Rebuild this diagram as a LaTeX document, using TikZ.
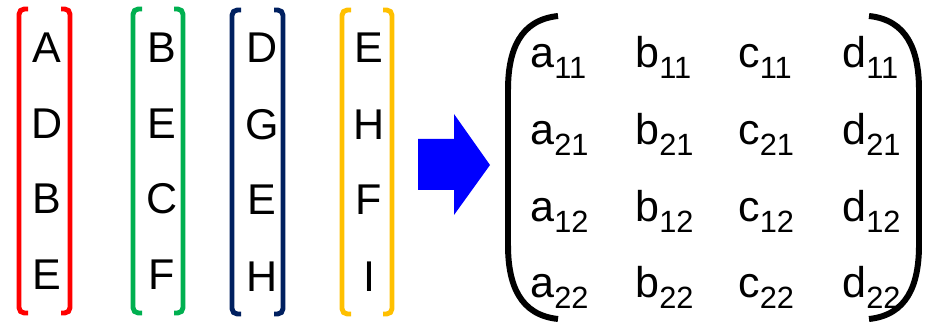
\documentclass[tikz,border=0pt]{standalone}
\usepackage{fontspec}
\setmainfont{Liberation Sans}
\usepackage{xcolor}
\usepackage{tikz}
\usetikzlibrary{positioning, calc}
\definecolor{colred}{RGB}{255, 0, 0}
\definecolor{colgreen}{RGB}{0, 176, 80}
\definecolor{colnavy}{RGB}{0, 32, 96}
\definecolor{colgold}{RGB}{255, 192, 0}
\definecolor{arrowblue}{RGB}{0, 0, 255}
\newcommand{\idx}[1]{\raisebox{-5.7pt}{\fontsize{17.5}{20}\selectfont #1}}

\begin{document}
\begin{tikzpicture}[x=0.02cm, y=-0.02cm,
    letter/.style={font=\fontsize{24.5}{29}\selectfont, inner sep=0pt, anchor=base},
    entry/.style={font=\fontsize{24.5}{29}\selectfont, inner sep=0pt, anchor=base west},
    bracket/.style={line width=2.8pt, rounded corners=3pt},
    paren/.style={line width=3.4pt}]
    \useasboundingbox (0,0) rectangle (926,323);

    % Columns
    \foreach \t/\y [count=\i] in {A/63,D/139,B/214,E/290}
        \node[letter] (red\i) at (47,\y) {\t};
    \foreach \t/\y [count=\i] in {B/63,E/139,C/214,F/290}
        \node[letter] (green\i) at (162,\y) {\t};
    \foreach \t/\y [count=\i] in {D/63,G/140,E/215,H/292}
        \node[letter] (navy\i) at (262,\y) {\t};
    \foreach \t/\y [count=\i] in {E/63,H/140,F/215,I/292}
        \node[letter] (gold\i) at (369,\y) {\t};

    % Brackets
    \draw[bracket, colred] (28,9) -- (19,9) -- (19,313) -- (28,313);
    \draw[bracket, colred] (61,9) -- (70,9) -- (70,313) -- (61,313);
    \draw[bracket, colgreen] (142,9) -- (133,9) -- (133,313) -- (142,313);
    \draw[bracket, colgreen] (174,9) -- (183,9) -- (183,313) -- (174,313);
    \draw[bracket, colnavy] (241,10) -- (232,10) -- (232,314) -- (241,314);
    \draw[bracket, colnavy] (274,10) -- (283,10) -- (283,314) -- (274,314);
    \draw[bracket, colgold] (351,10) -- (342,10) -- (342,314) -- (351,314);
    \draw[bracket, colgold] (383,10) -- (392,10) -- (392,314) -- (383,314);

    % Arrow
    \fill[arrowblue] (418,139) -- (454,139) -- (454,114) -- (490,165)
        -- (454,215) -- (454,190) -- (418,190) -- cycle;

    % Matrix
    \foreach \c/\x in {a/530,b/635,c/738,d/842}
        \foreach \r/\y in {11/68,21/145,12/222,22/298}
            \node[entry] (\c\r) at (\x,\y) {\c\idx{\r}};
    \draw[paren] (558,16) .. controls (520,20) and (508,50) .. (508,90)
        -- (508,245) .. controls (508,285) and (520,315) .. (558,319);
    \draw[paren] (869,16) .. controls (907,20) and (919,50) .. (919,90)
        -- (919,245) .. controls (919,285) and (907,315) .. (869,319);
\end{tikzpicture}
\end{document}
